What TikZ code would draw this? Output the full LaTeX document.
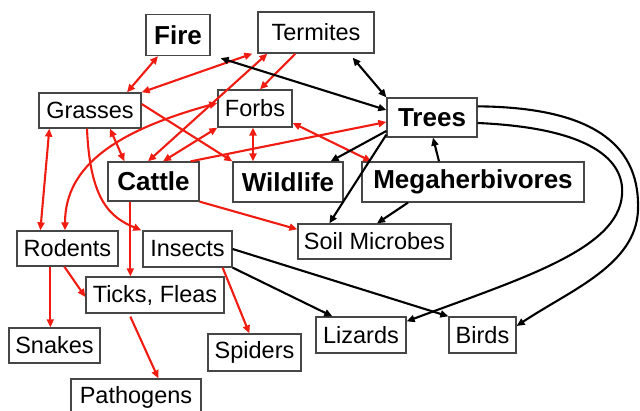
\documentclass[tikz,border=0pt]{standalone}
\usepackage{fontspec}
\setmainfont{Liberation Sans}
\usetikzlibrary{arrows.meta}
\definecolor{linkred}{RGB}{240,28,18}
\definecolor{boxgray}{RGB}{70,70,70}

\begin{document}
\begin{tikzpicture}[x=1pt,y=-1pt,
  box/.style={draw=boxgray, line width=1.3pt, inner sep=0pt, fill=white,
    font=\fontsize{23.5}{28}\selectfont},
  bigbox/.style={box, font=\fontsize{26}{30}\selectfont\bfseries},
  redlink/.style={draw=linkred, line width=2.1pt},
  blacklink/.style={draw=black, line width=2.1pt},
  >={Triangle[length=8pt,width=7pt]}]
\useasboundingbox (0,0) rectangle (640,411);
% boxes
\node[bigbox, minimum width=64pt, minimum height=41pt] (fire) at (178,35) {Fire};
\node[box, minimum width=116pt, minimum height=41pt] (termites) at (316,32.5) {Termites};
\node[box, minimum width=102pt, minimum height=35pt] (grasses) at (90,110.5) {Grasses};
\node[box, minimum width=74pt, minimum height=37pt] (forbs) at (255,108.5) {Forbs};
\node[bigbox, minimum width=90pt, minimum height=39pt] (trees) at (432,117.5) {Trees};
\node[bigbox, minimum width=91pt, minimum height=39pt] (cattle) at (153.5,181.5) {Cattle};
\node[bigbox, minimum width=110pt, minimum height=40pt] (wildlife) at (288,182) {Wildlife};
\node[bigbox, minimum width=222pt, minimum height=40pt] (megaherb) at (473,182) {Megaherbivores};
\node[box, minimum width=101pt, minimum height=35pt] (rodents) at (67.5,248.5) {Rodents};
\node[box, minimum width=89pt, minimum height=36pt] (insects) at (187.5,249) {Insects};
\node[box, minimum width=153pt, minimum height=35pt] (soil) at (374.5,241.5) {Soil Microbes};
\node[box, minimum width=138pt, minimum height=36pt] (ticks) at (155,295) {Ticks, Fleas};
\node[box, minimum width=91pt, minimum height=35pt] (snakes) at (54.5,345.5) {Snakes};
\node[box, minimum width=93pt, minimum height=37pt] (spiders) at (254.5,352.5) {Spiders};
\node[box, minimum width=90pt, minimum height=36pt] (lizards) at (361,335) {Lizards};
\node[box, minimum width=67pt, minimum height=36pt] (birds) at (482.5,335) {Birds};
\node[box, minimum width=130pt, minimum height=37pt] (pathogens) at (136,397.5) {Pathogens};

% red links
\draw[redlink, <->] ([xshift=-20pt]fire.south) -- ([xshift=37pt]grasses.north);
\draw[redlink, <->] (grasses.north east) -- ([xshift=-5pt]termites.south west);
\draw[redlink, <->] ([xshift=10pt]termites.south west) -- ([xshift=-5.5pt]cattle.north);
\draw[redlink, ->] ([xshift=38pt]termites.south west) -- ([xshift=5pt]forbs.north);
\draw[redlink, ->] ([yshift=6.5pt]grasses.east) -- (wildlife.north west);
\draw[redlink, <->] ([xshift=20pt]grasses.south) -- ([xshift=17pt]cattle.north west);
\draw[redlink, <->] (forbs.south west) -- ([xshift=9.5pt]cattle.north);
\draw[redlink, <->] ([xshift=-2pt]forbs.south) -- ([xshift=-35pt]wildlife.north);
\draw[redlink, <->] ([yshift=-14.5pt]forbs.east) -- ([xshift=10pt]megaherb.north west);
\draw[redlink, ->] ([xshift=-9pt]cattle.north east) -- ([yshift=-4.5pt]trees.west);
\draw[redlink, <->] ([yshift=5.5pt]forbs.west) .. controls +(-98,27) and +(0,-66) .. ([xshift=-2.5pt]rodents.north);
\draw[redlink, <->] ([xshift=11pt]grasses.south west) -- ([xshift=24pt]rodents.north west);
\draw[redlink, ->] ([xshift=-3pt]grasses.south) .. controls +(3,72) and +(-31,-13) .. ([xshift=-1pt]insects.north west);
\draw[redlink, ->] ([xshift=23pt]cattle.south west) -- ([xshift=45pt]ticks.north west);
\draw[redlink, ->] (cattle.south east) -- ([yshift=-6pt]soil.north west);
\draw[redlink, ->] ([xshift=34pt]rodents.south west) -- ([xshift=42pt]snakes.north west);
\draw[redlink, ->] ([xshift=48pt]rodents.south west) -- ([yshift=-2pt]ticks.west);
\draw[redlink, ->] ([xshift=45pt,yshift=-3pt]ticks.south west) -- ([xshift=88pt]pathogens.north west);
\draw[redlink, ->] ([xshift=-10pt]insects.south east) -- ([xshift=42pt]spiders.north west);

% black links
\draw[blacklink, <->] ([xshift=10pt,yshift=-2pt]fire.south east) -- ([yshift=7.5pt]trees.west);
\draw[blacklink, <->] ([xshift=-22pt,yshift=-4pt]termites.south east) -- (trees.north west);
\draw[blacklink, ->] ([yshift=-13.5pt]trees.west) -- ([xshift=-13pt]wildlife.north east);
\draw[blacklink, ->] ([yshift=3pt]trees.south west) -- ([xshift=32pt]soil.north west);
\draw[blacklink, ->] ([xshift=-34pt]megaherb.north) -- ([xshift=1pt]trees.south);
\draw[blacklink, ->] ([xshift=-65pt]megaherb.south) -- ([xshift=2.5pt]soil.north);
\draw[blacklink, ->] ([yshift=-9pt]trees.north east) .. controls +(123,1) and +(2,-60) .. (638,210)
  .. controls +(-2,55) and +(54,-36) .. ([yshift=9pt]birds.east);
\draw[blacklink, ->] ([yshift=-5.5pt]trees.east) .. controls +(113,5) and +(3,-35) .. (622,195)
  .. controls +(-4,55) and +(112,-42) .. ([yshift=-5pt]lizards.north east);
\draw[blacklink, ->] (insects.east) -- (birds.north west);
\draw[blacklink, ->] (insects.south east) -- ([xshift=17pt]lizards.north west);
\end{tikzpicture}
\end{document}
